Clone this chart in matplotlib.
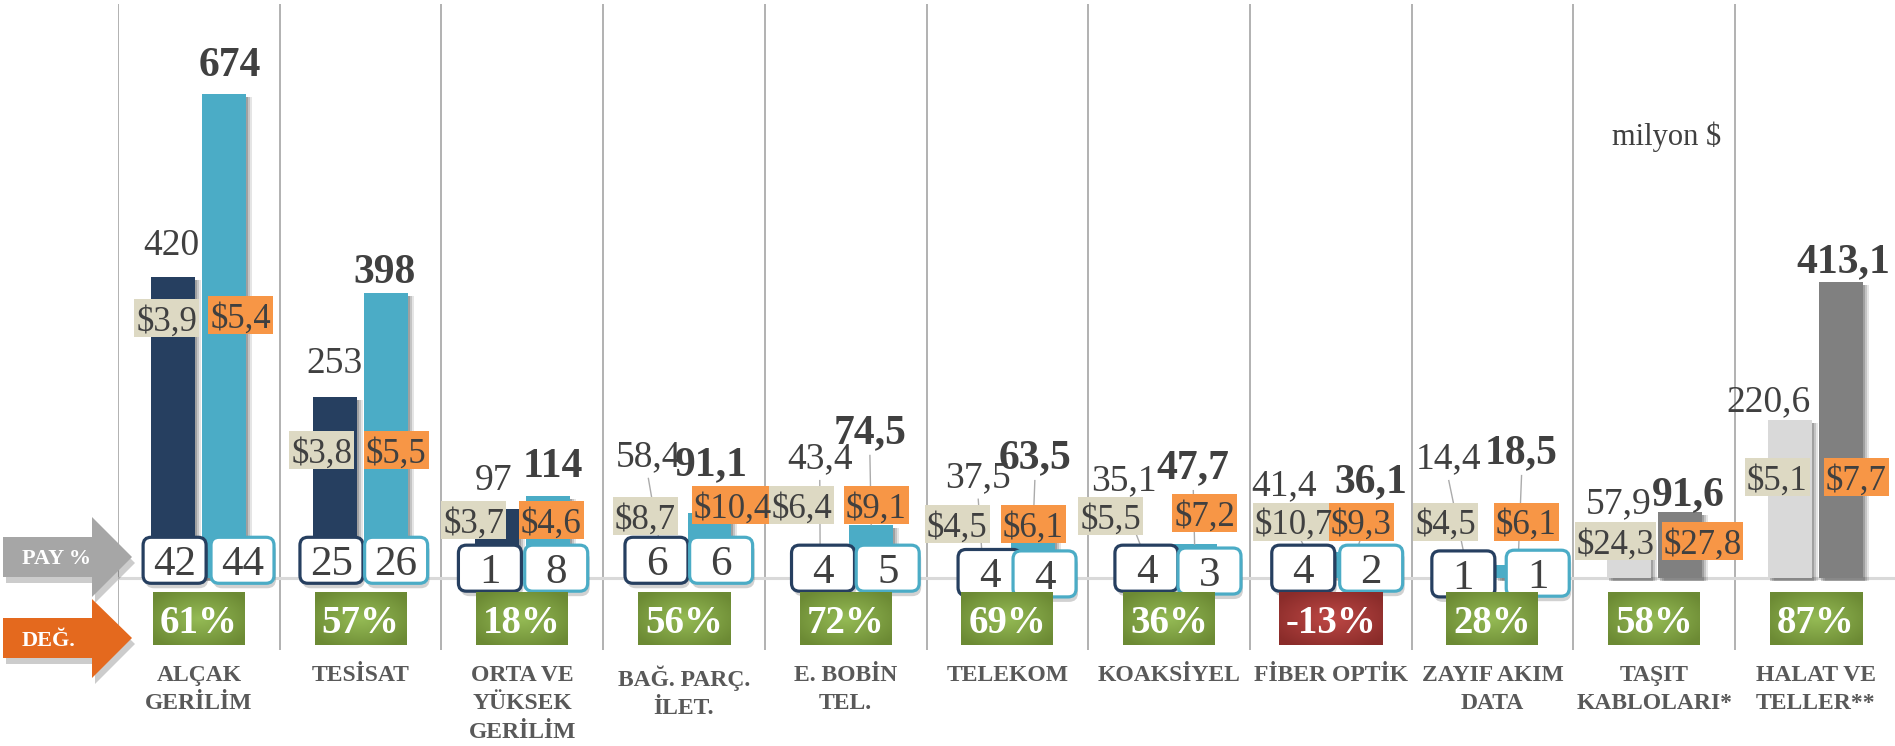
import numpy as np
import matplotlib.pyplot as plt
from matplotlib.patches import FancyBboxPatch, Rectangle, Polygon

plt.rcParams["font.family"] = ["Liberation Serif", "DejaVu Serif"]

# ── data ────────────────────────────────────────────────────────────────────
CATEGORIES = ["ALÇAK\nGERİLİM", "TESİSAT", "ORTA VE\nYÜKSEK\nGERİLİM",
              "BAĞ. PARÇ.\nİLET.", "E. BOBİN\nTEL.", "TELEKOM", "KOAKSİYEL",
              "FİBER OPTİK", "ZAYIF AKIM\nDATA", "TAŞIT\nKABLOLARI*",
              "HALAT VE\nTELLER**"]
VAL_PREV = [420, 253, 97, 58.4, 43.4, 37.5, 35.1, 41.4, 14.4, 57.9, 220.6]
VAL_CURR = [674, 398, 114, 91.1, 74.5, 63.5, 47.7, 36.1, 18.5, 91.6, 413.1]
PRICE_PREV = [3.9, 3.8, 3.7, 8.7, 6.4, 4.5, 5.5, 10.7, 4.5, 24.3, 5.1]
PRICE_CURR = [5.4, 5.5, 4.6, 10.4, 9.1, 6.1, 7.2, 9.3, 6.1, 27.8, 7.7]
SHARE_PREV = [42, 25, 1, 6, 4, 4, 4, 4, 1]       # PAY %, first 9 categories
SHARE_CURR = [44, 26, 8, 6, 5, 4, 3, 2, 1]
CHANGE = [61, 57, 18, 56, 72, 69, 36, -13, 28, 58, 87]   # DEĞ. %

# ── label placement (x offset in category units, y in million $) ───────────
LBL_PREV_DX = [-0.17, -0.16, -0.18, -0.22, -0.16, -0.18, -0.28, -0.29, -0.27, -0.22, -0.29]
LBL_PREV_Y = [450, 286, 123, 156, 153, 127, 123, 116, 153, 91, 233]
LBL_CURR_DX = [0.19, 0.15, 0.19, 0.17, 0.15, 0.17, 0.15, 0.25, 0.18, 0.21, 0.17]
LBL_CURR_Y = [700, 411, 141, 144, 188, 153, 139, 120, 160, 102, 427]
PR_PREV_DX = [-0.20, -0.24, -0.30, -0.24, -0.27, -0.31, -0.36, -0.23, -0.29, -0.24, -0.24]
PR_PREV_Y = [362, 178, 81, 86, 102, 75, 86, 79, 79, 52, 141]
PR_CURR_DX = [0.26, 0.22, 0.18, 0.30, 0.19, 0.16, 0.22, 0.19, 0.21, 0.30, 0.25]
PR_CURR_Y = [367, 178, 81, 102, 102, 75, 91, 79, 79, 52, 141]
SH_PREV_DX = [-0.15, -0.18, -0.20, -0.17, -0.14, -0.11, -0.14, -0.17, -0.18]
SH_CURR_DX = [0.27, 0.22, 0.21, 0.23, 0.26, 0.23, 0.25, 0.25, 0.28]
SH_PREV_Y = [25, 25, 14, 25, 14, 8, 14, 14, 6]
SH_CURR_Y = [25, 25, 14, 25, 14, 6, 10, 14, 7]
LEADERS = [3, 4, 5, 6, 7, 8]

# ── colours ─────────────────────────────────────────────────────────────────
NAVY, AQUA = "#263F60", "#4BACC6"
LGREY, DGREY = "#D9D9D9", "#808080"
TAN, ORANGE = "#DDD9C3", "#F79646"
INK, CAT_INK = "#404040", "#595959"
SEP, BASE = "#ABABAB", "#D9D9D9"
COL_PREV = [NAVY] * 9 + [LGREY] * 2
COL_CURR = [AQUA] * 9 + [DGREY] * 2

W_PX, H_PX = 1895, 746
CAT_PX = 161.7
fig = plt.figure(figsize=(W_PX / 100, H_PX / 100), dpi=100)
ax = fig.add_axes([118 / W_PX, 96 / H_PX, 11 * CAT_PX / W_PX, 646 / H_PX])
ax.set_xlim(-0.5, 10.5)
ax.set_ylim(-100, 800)
PX_X = 1 / CAT_PX          # category units per pixel
PX_Y = 900 / 646           # value units per pixel


def fmt(v, prefix=""):
    s = f"{v:d}" if isinstance(v, int) else f"{v:.1f}".replace(".", ",")
    return prefix + s


x = np.arange(len(CATEGORIES))
off, bw = 0.158, 0.272

# separators and baseline
for k in range(len(CATEGORIES)):
    ax.axvline(k - 0.5, color=SEP, lw=1.3, zorder=0)
ax.axhline(0, color=BASE, lw=2.2, zorder=1)

# bar shadows + bars
for dx, alpha in ((6, 0.10), (4, 0.14), (2, 0.18)):
    ax.bar(x - off + dx * PX_X, VAL_PREV, bw, bottom=-3 * PX_Y, color="k",
           alpha=alpha, zorder=1.5, lw=0)
    ax.bar(x + off + dx * PX_X, VAL_CURR, bw, bottom=-3 * PX_Y, color="k",
           alpha=alpha, zorder=1.5, lw=0)
ax.bar(x - off, VAL_PREV, bw, color=COL_PREV, zorder=2, lw=0)
ax.bar(x + off, VAL_CURR, bw, color=COL_CURR, zorder=2, lw=0)

# leader lines
for i in LEADERS:
    ax.plot([i + LBL_PREV_DX[i], i - off], [LBL_PREV_Y[i] - 17, VAL_PREV[i]],
            color=SEP, lw=1, zorder=3)
    ax.plot([i + LBL_CURR_DX[i], i + off], [LBL_CURR_Y[i] - 17, VAL_CURR[i]],
            color=SEP, lw=1, zorder=3)

# value labels
for i in x:
    ax.text(i + LBL_PREV_DX[i], LBL_PREV_Y[i], fmt(VAL_PREV[i]), ha="center",
            va="baseline", fontsize=27, color=INK, zorder=4)
    ax.text(i + LBL_CURR_DX[i], LBL_CURR_Y[i], fmt(VAL_CURR[i]), ha="center",
            va="baseline", fontsize=30, fontweight="bold", color=INK, zorder=4)

# unit price boxes
box_h = 38 * PX_Y
for i in x:
    for p, dx, y, fc in ((PRICE_PREV[i], PR_PREV_DX[i], PR_PREV_Y[i], TAN),
                         (PRICE_CURR[i], PR_CURR_DX[i], PR_CURR_Y[i], ORANGE)):
        s = fmt(p, "$")
        bwid = (16 * len(s) + 1) * PX_X
        ax.add_patch(Rectangle((i + dx - bwid / 2, y - box_h / 2), bwid, box_h,
                               fc=fc, ec="none", zorder=5))
        ax.text(i + dx, y, s, ha="center", va="center_baseline", fontsize=25,
                color=INK, zorder=5.1)

# PAY % boxes
sw, sh = 63 * PX_X, 46 * PX_Y
aspect = PX_Y / PX_X
for i in range(len(SHARE_PREV)):
    for v, dx, y, ec in ((SHARE_PREV[i], SH_PREV_DX[i], SH_PREV_Y[i], NAVY),
                         (SHARE_CURR[i], SH_CURR_DX[i], SH_CURR_Y[i], AQUA)):
        cx = i + dx
        ax.add_patch(FancyBboxPatch((cx - sw / 2 + 2 * PX_X, y - sh / 2 - 5 * PX_Y),
                                    sw, sh, boxstyle=f"round,pad=0,rounding_size={9 * PX_X}",
                                    mutation_aspect=aspect, fc="k", ec="none",
                                    alpha=0.18, zorder=5.8))
        ax.add_patch(FancyBboxPatch((cx - sw / 2, y - sh / 2), sw, sh,
                                    boxstyle=f"round,pad=0,rounding_size={8 * PX_X}",
                                    mutation_aspect=aspect, fc="white", ec=ec,
                                    lw=2.3, zorder=6))
        ax.text(cx, y, str(v), ha="center", va="center_baseline", fontsize=31,
                color=INK, zorder=6.1)

# DEĞ. % boxes with radial gradient
gy, gx = np.mgrid[-1:1:40j, -1:1:80j]
r = np.clip(np.sqrt(gx ** 2 + gy ** 2) / 1.25, 0, 1)[..., None]
GREEN = (np.array([0x95, 0xBB, 0x55]) / 255, np.array([0x6C, 0x8A, 0x34]) / 255)
RED = (np.array([0xBE, 0x48, 0x45]) / 255, np.array([0x8A, 0x2C, 0x2A]) / 255)
d_top, d_bot = -14 * PX_Y, -67 * PX_Y
for i, v in enumerate(CHANGE):
    s = f"{v}%"
    wd = (92 + 12 * (len(s) - 3)) * PX_X
    c_in, c_out = GREEN if v >= 0 else RED
    img = c_in * (1 - r) + c_out * r
    ax.imshow(img, extent=(i - wd / 2, i + wd / 2, d_bot, d_top), aspect="auto",
              interpolation="bilinear", zorder=7)
    ax.text(i, (d_top + d_bot) / 2, s, ha="center", va="center_baseline",
            fontsize=28, fontweight="bold", color="white", zorder=7.1)

ax.text(9.08, 603, "milyon $", ha="center", va="baseline", fontsize=22, color=INK)

ax.set_xlim(-0.5, 10.5)
ax.set_ylim(-100, 800)
ax.set_aspect("auto")
ax.set_xticks(x)
ax.set_xticklabels(CATEGORIES, fontsize=17, fontweight="bold", color=CAT_INK,
                   linespacing=1.45)
ax.tick_params(axis="x", length=0, pad=11)
ax.set_yticks([])
for sp in ax.spines.values():
    sp.set_visible(False)
ax.patch.set_alpha(0)

# side arrows (pixel overlay)
oax = fig.add_axes([0, 0, 1, 1])
oax.set_xlim(0, W_PX)
oax.set_ylim(H_PX, 0)
oax.axis("off")
oax.patch.set_alpha(0)
arrows = [
    ("PAY %", "#A6A6A6", 537, 577, 517, 597),
    ("DEĞ.", "#E4691E", 618, 658, 599, 678),
]
for label, col, b0, b1, h0, h1 in arrows:
    mid = (b0 + b1) / 2
    pts = [(3, b0), (92, b0), (92, h0), (132, mid), (92, h1), (92, b1), (3, b1)]
    oax.add_patch(Polygon([(px + 3, py + 6) for px, py in pts], closed=True,
                          fc="k", ec="none", alpha=0.2))
    oax.add_patch(Polygon(pts, closed=True, fc=col, ec="none"))
    oax.text(22, mid, label, ha="left", va="center_baseline", fontsize=16,
             fontweight="bold", color="white")

fig.savefig("out.png", dpi=100, facecolor="white")
